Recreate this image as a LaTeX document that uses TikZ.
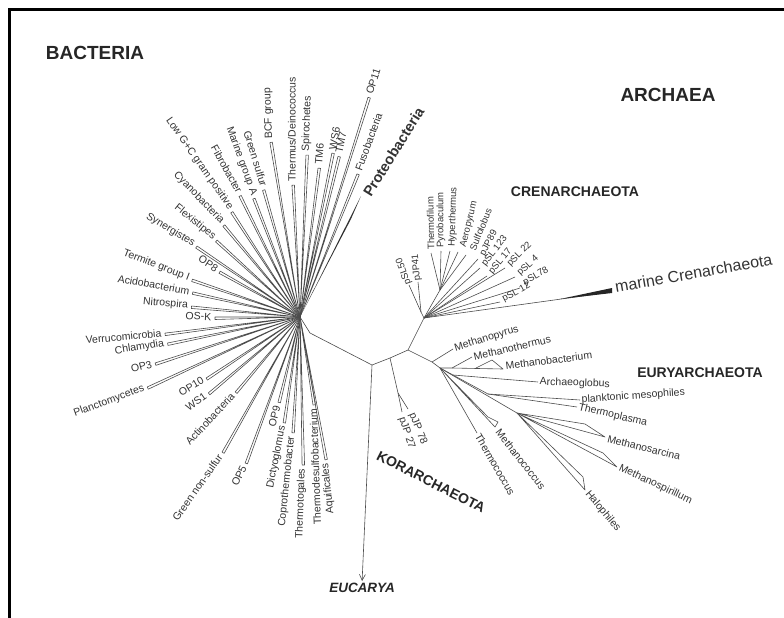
\documentclass[tikz,border=0pt]{standalone}
\usepackage{fontspec}
\setmainfont{Liberation Sans}
\usetikzlibrary{arrows.meta}

\tikzset{
  branch/.style={draw=black!70, line width=0.6pt, line join=round},
  taxon/.style={font=\fontsize{10.5}{12}\selectfont, text=black!80, inner sep=1.5pt},
  ctaxon/.style={taxon, font=\fontsize{9.5}{11}\selectfont, inner sep=1pt},
  realm/.style={font=\fontsize{19}{22}\selectfont\bfseries, text=black!85, inner sep=0pt},
  phylum/.style={font=\fontsize{14}{16}\selectfont\bfseries, text=black!85, inner sep=0pt},
}

\begin{document}
\begin{tikzpicture}[x=1pt,y=-1pt]
  \useasboundingbox (0,0) rectangle (784,618);
  \draw[line width=3pt] (784,9.5) -- (9.5,9.5) -- (9.5,618);

  % domain and phylum names
  \node[realm] (bact) at (95,53) {BACTERIA};
  \node[realm] (arch) at (668,95) {ARCHAEA};
  \node[phylum] (cren) at (575,192) {CRENARCHAEOTA};
  \node[phylum] (eury) at (700,373) {EURYARCHAEOTA};
  \node[phylum, rotate=-27] (kor) at (431,482) {KORARCHAEOTA};
  \node[phylum, font=\fontsize{13.5}{16}\selectfont\bfseries\itshape] (euc) at (362,588) {EUCARYA};

  % deep branches
  \coordinate (H) at (300,317);
  \coordinate (R) at (310,333);
  \coordinate (Z) at (372,365);
  \coordinate (K) at (390,358);
  \coordinate (A) at (408,350);
  \draw[branch] (H) -- (R) -- (Z) -- (K) -- (A);
  \draw[branch, -{Straight Barb[length=6pt,width=6pt]}, shorten >=2pt] (Z) -- (euc.north);

  % bacteria, names read towards the hub
  \foreach \a/\r/\o/\t in {180/85/-3/OS-K, 174.2/109/-5/Nitrospira,
      166.8/110/-10/Acidobacterium, 160.6/114/-21/Termite group I,
      150.1/92/-33/OP8, 145.4/125/-31/Synergistes, 137.1/113/-39/Flexistipes,
      129.2/119/-46/Cyanobacteria, 122.5/125/-55/Low G+C gram positive,
      115.8/135/-61/Fibrobacter, 110.7/127/-70/Marine group A,
      105.4/132/-73/Green sulfur, 186.8/136/5/Verrucomicrobia,
      191.1/135/9/Chlamydia, 197.6/152/15/OP3, 204.6/168/20/Planctomycetes,
      213/112/30/OP10, 219.6/119/35/WS1, 229.1/99/47/Actinobacteria,
      240/156/55/Green non-sulfur, 249.4/156/64/OP5, 255.5/88/76/OP9,
      260.9/107/79/Dictyoglomus, 266/116/84/Coprothermobacter,
      270.8/148/88/Thermotogales, 278.4/89/92/Thermodesulfobacterium,
      279.9/145/96/Aquificales}
  {
    \pgfmathsetmacro{\rl}{\r+2}
    \draw[branch] (H) -- ++(\a:\r pt) -- ++(\a+90:2.5pt) -- cycle;
    \path (H) ++(\a:\rl pt) node[taxon, anchor=east, rotate=\o] {\t};
  }
  % bacteria, names read outwards
  \foreach \a/\r/\o/\t in {99.8/177/92/BCF group, 93.5/132/90/{Thermus/Deinococcus},
      87.9/162/88/Spirochetes, 83.1/150/85/TM6, 79/167/80/WS6, 76.7/165/78/TM7,
      72.8/230/72/OP11, 68.3/154/70/Fusobacteria}
  {
    \pgfmathsetmacro{\rl}{\r+2}
    \draw[branch] (H) -- ++(\a:\r pt) -- ++(\a-90:2.5pt) -- cycle;
    \path (H) ++(\a:\rl pt) node[taxon, anchor=west, rotate=\o] {\t};
  }
  \coordinate (prot) at (361,196);
  \fill[black!80] (H) -- (prot) -- (351,219) -- cycle;
  \node[anchor=west, rotate=58, font=\fontsize{14.5}{16}\selectfont\bfseries,
        text=black!80, inner sep=1pt] (lprot) at (366,196) {Proteobacteria};

  % crenarchaeota
  \coordinate (C) at (424,318);
  \coordinate (Cp) at (421,312);
  \coordinate (Ct) at (440,290);
  \draw[branch] (A) -- (C) -- (Cp);
  \draw[branch] (C) -- (Ct);
  \foreach \x/\y/\o/\t in {409/285/110/pSL50, 418/282/95/pJP41}
  {
    \draw[branch] (Cp) -- (\x,\y);
    \node[ctaxon, anchor=west, rotate=\o] at (\x,\y) {\t};
  }
  % line end / label anchor / turn
  \foreach \x/\y/\lx/\ly/\o/\t in {431/253/431/251/91/Thermofilum,
      441/251/441/249/90/Pyrobaculum, 450/251/452/248/88/Hyperthermus,
      458/252/463/248/76/Aeropyrum, 466/255/472/251/68/Sulfolobus}
  {
    \draw[branch] (Ct) -- (\x,\y);
    \node[ctaxon, anchor=west, rotate=\o] at (\lx,\ly) {\t};
  }
  \foreach \x/\y/\lx/\ly/\o/\t in {478/259/482/256/62/pJP89,
      480/268/483/266/52/pSL 123, 487/276/490/274/50/pSL 17,
      505/268/508/266/45/pSL 22, 515/277/518/275/42/pSL 4,
      520/288/523/284/30/pSL78, 500/302/502/300/28/pSL 12}
  {
    \draw[branch] (C) -- (\x,\y);
    \node[ctaxon, anchor=west, rotate=\o] at (\lx,\ly) {\t};
  }
  \coordinate (mar) at (612,292);
  \draw[branch] (C) -- (mar);
  \fill[black!85] (560,299) -- (612,288) -- (612,293) -- cycle;
  \node[anchor=west, rotate=10, font=\fontsize{16}{18}\selectfont, text=black!80,
        inner sep=1pt] (lmar) at (614,287) {marine Crenarchaeota};

  % korarchaeota
  \coordinate (Ks) at (398,393);
  \coordinate (k27) at (402,412);
  \coordinate (k78) at (408,409);
  \draw[branch] (K) -- (Ks) -- (k27);
  \draw[branch] (Ks) -- (k78);
  \node[taxon, anchor=west, rotate=-68] at (411,412) {pJP 78};
  \node[taxon, anchor=west, rotate=-72] at (401,416) {pJP 27};

  % euryarchaeota
  \coordinate (M1) at (432,362);
  \coordinate (E) at (440,368);
  \coordinate (Mb) at (452,368);
  \coordinate (P1) at (453,375);
  \coordinate (P2) at (488,394);
  \coordinate (S) at (517,413);
  \draw[branch] (A) -- (M1) -- (E);
  \draw[branch] (M1) -- (453,349) node[taxon, anchor=west, rotate=17] {Methanopyrus};
  \draw[branch] (E) -- (Mb) -- (472,357) node[taxon, anchor=west, rotate=13] {Methanothermus};
  \draw[branch] (Mb) -- (503,369) -- (492,360) -- (476,368);
  \node[taxon, anchor=west, rotate=7] at (504,366) {Methanobacterium};
  \draw[branch] (E) -- (P1) -- (P2);
  \draw[branch] (E) -- (S);
  \draw[branch] (P1) -- (538,382) node[taxon, anchor=west, rotate=-2] {Archaeoglobus};
  \draw[branch] (P2) -- (580,400) node[taxon, anchor=west, rotate=4] {planktonic mesophiles};
  \draw[branch] (P2) -- (577,407) node[taxon, anchor=west, rotate=-13] {Thermoplasma};
  \draw[branch] (S) -- (585,424) -- (605,437) -- cycle;
  \node[taxon, anchor=west, rotate=-14] at (606,438) {Methanosarcina};
  \draw[branch] (S) -- (603,453) -- (617,467) -- cycle;
  \node[taxon, anchor=west, rotate=-25] at (618,467) {Methanospirillum};
  \draw[branch] (S) -- (583,477) -- (585,490) -- cycle;
  \node[taxon, anchor=west, rotate=-50] at (586,491) {Halophiles};
  \draw[branch] (E) -- (488,417) -- (498,422) -- (495,427) -- cycle;
  \node[taxon, anchor=west, rotate=-52] at (497,429) {Methanococcus};
  \draw[branch] (E) -- (477,433) node[taxon, anchor=west, rotate=-60] {Thermococcus};
\end{tikzpicture}
\end{document}
